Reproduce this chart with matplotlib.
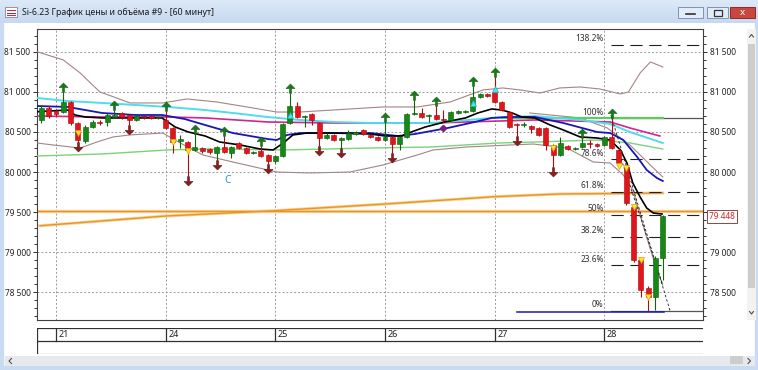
import numpy as np
import matplotlib.pyplot as plt
from matplotlib.path import Path
from matplotlib.patches import Rectangle
from matplotlib.colors import LinearSegmentedColormap
from matplotlib.ticker import MultipleLocator, FuncFormatter, FixedLocator

plt.rcParams['font.family'] = ['Noto Sans', 'DejaVu Sans']

W, H = 758, 370

# ---- price data (hourly bars, index 0 = first bar of the 21st) ----
bar_idx = np.arange(-2, 84)
opens = [80649, 80798, 80761, 80748, 80873, 80611, 80387, 80561, 80624, 80624,
         80686, 80736, 80711, 80649, 80698, 80698, 80674, 80649, 80549, 80387,
         80374, 80275, 80299, 80287, 80237, 80312, 80237, 80362, 80299, 80237,
         80262, 80212, 80137, 80200, 80611, 80823, 80686, 80723, 80611, 80424,
         80462, 80399, 80412, 80474, 80524, 80462, 80437, 80399, 80437, 80349,
         80437, 80723, 80736, 80698, 80711, 80661, 80649, 80736, 80748, 80761,
         80935, 80973, 80998, 80873, 80748, 80599, 80586, 80574, 80549, 80549,
         80337, 80212, 80324, 80287, 80312, 80362, 80349, 80337, 80437, 80275,
         80063, 79564, 78903, 78554, 78441, 78928]
highs = [80836, 80823, 80786, 80998, 80885, 80624, 80586, 80649, 80649, 80736,
         80773, 80748, 80723, 80711, 80711, 80711, 80698, 80761, 80561, 80462,
         80387, 80474, 80312, 80299, 80324, 80449, 80324, 80374, 80312, 80262,
         80324, 80225, 80212, 80611, 80985, 80873, 80711, 80736, 80624, 80486,
         80474, 80437, 80524, 80511, 80536, 80474, 80449, 80624, 80449, 80449,
         80736, 80898, 80798, 80723, 80823, 80773, 80761, 80773, 80773, 81073,
         80985, 80985, 81185, 80885, 80761, 80611, 80624, 80586, 80561, 80561,
         80349, 80437, 80337, 80312, 80424, 80399, 80362, 80449, 80670, 80299,
         80075, 79576, 78928, 78579, 78953, 79464]
lows = [80611, 80674, 80698, 80736, 80586, 80374, 80362, 80549, 80586, 80574,
        80674, 80661, 80586, 80636, 80661, 80661, 80661, 80536, 80237, 80299,
        79950, 80262, 80237, 80225, 80150, 80237, 80175, 80287, 80225, 80225,
        80187, 80100, 80112, 80187, 80599, 80674, 80561, 80586, 80324, 80412,
        80387, 80299, 80399, 80462, 80462, 80424, 80387, 80387, 80237, 80275,
        80424, 80711, 80674, 80624, 80649, 80624, 80636, 80723, 80736, 80748,
        80923, 80935, 80861, 80761, 80549, 80449, 80561, 80486, 80449, 80275,
        80063, 80200, 80275, 80275, 80299, 80299, 80312, 80324, 80287, 80075,
        79589, 78878, 78441, 78270, 78279, 78653]
closes = [80798, 80698, 80723, 80873, 80611, 80399, 80561, 80624, 80611, 80711,
          80711, 80686, 80649, 80698, 80686, 80674, 80686, 80549, 80374, 80412,
          80275, 80312, 80262, 80250, 80312, 80250, 80312, 80299, 80237, 80250,
          80200, 80137, 80200, 80599, 80823, 80686, 80698, 80649, 80424, 80462,
          80399, 80424, 80486, 80499, 80474, 80437, 80399, 80437, 80349, 80437,
          80723, 80736, 80686, 80711, 80661, 80649, 80748, 80761, 80761, 80935,
          80973, 80948, 80873, 80773, 80561, 80586, 80599, 80536, 80462, 80337,
          80212, 80362, 80287, 80287, 80362, 80349, 80324, 80437, 80299, 80112,
          79614, 78903, 78529, 78441, 78928, 79448]

day_labels = ["21", "24", "25", "26", "27", "28"]
day_start = [0, 15, 30, 45, 60, 75]

# indicator lines (bar position, price)
black_x = [-2.6, 1.6, 2.6, 4.0, 6.3, 10.8, 14.5, 16.3, 18.1, 20.4, 22.4, 25.2, 27.9, 29.7, 31.1,
           32.4, 34.3, 37.9, 43.0, 45.0, 47.3, 48.2, 50.5, 53.2, 56.0, 57.7, 59.6, 61.0, 62.4,
           63.7, 65.5, 67.6, 69.4, 71.7, 74.0, 75.8, 77.2, 78.1, 78.9, 79.9, 80.8, 81.7, 82.9]
black_y = [80752, 80773, 80711, 80686, 80674, 80674, 80674, 80561, 80499, 80449, 80374, 80337,
           80287, 80275, 80362, 80462, 80486, 80486, 80474, 80449, 80449, 80486, 80561, 80624,
           80674, 80736, 80786, 80773, 80736, 80686, 80674, 80586, 80524, 80437, 80424, 80399,
           80275, 80112, 79863, 79688, 79551, 79489, 79476]
blue_x = [-2.6, 1.6, 6.3, 10.8, 14.5, 17.6, 20.4, 24.2, 28.9, 30.2, 31.6, 33.4, 37.9, 43.0,
          46.8, 49.1, 53.6, 57.3, 59.6, 61.8, 65.5, 69.4, 74.0, 75.8, 77.6, 79.5, 80.8, 82.2, 83.0]
blue_y = [80823, 80811, 80736, 80711, 80711, 80661, 80586, 80486, 80412, 80399, 80462, 80486,
          80486, 80486, 80449, 80474, 80549, 80624, 80674, 80686, 80686, 80611, 80499, 80486,
          80399, 80187, 80025, 79925, 79888]
cyan_x = [-2.6, 1.6, 6.3, 10.8, 15.3, 20.4, 24.2, 28.9, 33.4, 37.9, 43.0, 51.4, 59.6, 65.5,
          71.7, 75.8, 78.5, 83.0]
cyan_y = [80923, 80885, 80861, 80836, 80811, 80773, 80736, 80686, 80649, 80624, 80611, 80611,
          80674, 80698, 80649, 80599, 80499, 80362]
magenta_x = [-2.6, 6.3, 15.3, 20.4, 28.9, 37.9, 51.4, 65.5, 75.8, 78.5, 82.6]
magenta_y = [80698, 80686, 80686, 80674, 80624, 80611, 80611, 80649, 80624, 80549, 80449]
lgreen_x = [-2.6, 6.3, 15.3, 20.4, 31.1, 43.0, 51.4, 60.5, 65.5, 74.0, 78.5, 83.0]
lgreen_y = [80200, 80225, 80275, 80287, 80275, 80299, 80312, 80362, 80374, 80399, 80362, 80287]
bb_up_x = [-2.6, 1.0, 3.3, 6.0, 8.3, 10.1, 14.6, 17.9, 22.0, 26.1, 30.2, 33.4, 37.9, 44.7,
           49.4, 53.9, 58.4, 61.1, 63.5, 66.2, 68.9, 71.7, 74.4, 77.2, 78.3, 79.9, 81.3, 83.0]
bb_up_y = [81500, 81397, 81235, 80998, 80923, 80861, 80861, 80911, 80873, 80811, 80748, 80748,
           80773, 80811, 80811, 80873, 81023, 81048, 81023, 80985, 81048, 81060, 81035, 80973,
           80998, 81235, 81372, 81310]
bb_lo_x = [-2.6, -0.4, 3.3, 5.6, 7.8, 10.1, 14.6, 17.0, 20.1, 24.8, 30.2, 34.7, 40.2, 44.7,
           49.4, 51.6, 56.2, 62.1, 65.3, 69.9, 73.5, 75.8, 77.6, 78.9, 80.7, 82.1, 83.0]
bb_lo_y = [80362, 80337, 80299, 80374, 80437, 80462, 80486, 80362, 80212, 80112, 80000, 79988,
           80000, 80087, 80212, 80275, 80312, 80337, 80349, 80299, 80125, 80112, 79963, 79776,
           79215, 78803, 78591]
bb_mid_x = [64.8, 71.7, 75.4, 78.5, 81.3, 83.0]
bb_mid_y = [80736, 80674, 80549, 80337, 80087, 79938]
orange_x = [-2.2, 14.9, 30.0, 45.0, 59.9, 68.9, 83.0]
orange_y = [79330, 79451, 79518, 79601, 79692, 79726, 79738]
orange_level = 79520
green_level = 80677
green_level_x = [61.0, 83.0]
blue_level = 78251
blue_level_x = [63.1, 83.2]
trend_a_x = [75.9, 84.0]
trend_a_y = [80711, 78267]
trend_b_x = [76.9, 83.0]
trend_b_y = [80275, 78591]

fib_low, fib_high = 78270, 80670
fib_levels = [0, 0.236, 0.382, 0.5, 0.618, 0.786, 1.0, 1.382]
fib_labels = ["0%", "23.6%", "38.2%", "50%", "61.8%", "78.6%", "100%", "138.2%"]
fib_start = 75.9

up_marks = [1, 8, 15, 19, 23, 28, 32, 45, 49, 52, 57, 60, 72, 76]
down_marks = [3, 10, 18, 22, 29, 36, 39, 46, 63, 68]
yellow_i = [3, 16, 18, 68, 77, 78, 79, 80, 81]
yellow_p = [80486, 80374, 80262, 80299, 80075, 80050, 79564, 78903, 78441]
cyan_i = [32, 57, 60]
cyan_p = [80711, 80861, 81035]
last_price = 79448

# ---- figure ----
fig = plt.figure(figsize=(W / 100, H / 100), dpi=100)
fig.patch.set_facecolor('white')

bg = fig.add_axes([0, 0, 1, 1], zorder=0)
bg.set_xlim(0, W)
bg.set_ylim(H, 0)
bg.axis('off')

# window chrome
tb = LinearSegmentedColormap.from_list('tb', ['#dde9f7', '#c6d9f0'])
bg.imshow(np.linspace(0, 1, 40).reshape(-1, 1), extent=(0, W, 23, 0), cmap=tb, aspect='auto', zorder=0)
bg.add_patch(Rectangle((0, 23), 3, H - 23, color='#c9dbf0', zorder=1))
bg.add_patch(Rectangle((755, 23), 3, H - 23, color='#c9dbf0', zorder=1))
bg.add_patch(Rectangle((0, 366), W, 4, color='#c9dbf0', zorder=1))
bg.add_patch(Rectangle((5, 7), 12, 10, facecolor='white', edgecolor='#7a8aa0', lw=0.6, zorder=2))
for k, c in enumerate(['#d03030', '#3050c0', '#d03030']):
    bg.plot([7, 15], [10 + 2.5 * k, 10 + 2.5 * k], color=c, lw=0.8, zorder=3)
bg.text(22, 12, "Si-6.23 График цены и объёма #9 - [60 минут]", fontsize=6.3,
        va='center', ha='left', color='#1a1a1a')
bg.add_patch(Rectangle((678, 7), 25, 11, facecolor='#e2ebf6', edgecolor='#7d95b5', lw=0.7))
bg.plot([686, 695], [14, 14], color='#333333', lw=1.2)
bg.add_patch(Rectangle((707, 7), 21, 11, facecolor='#e2ebf6', edgecolor='#7d95b5', lw=0.7))
bg.add_patch(Rectangle((713.5, 9.5), 8, 6, facecolor='none', edgecolor='#333333', lw=0.9))
bg.add_patch(Rectangle((730, 7), 25, 11, facecolor='#c9473e', edgecolor='#8a2a25', lw=0.7))
bg.text(742.5, 12.5, "x", fontsize=7, fontweight='bold', color='white', ha='center', va='center')

# vertical scrollbar
bg.add_patch(Rectangle((747, 29), 9, 291, facecolor='#f2f2f2', edgecolor='none'))
bg.add_patch(Rectangle((748, 44), 7, 244, facecolor='#cdcdcd', edgecolor='none'))
bg.plot([749.5, 751.5, 753.5], [37, 34.5, 37], color='#505050', lw=0.8)
bg.plot([749.5, 751.5, 753.5], [311.5, 314, 311.5], color='#505050', lw=0.8)
# horizontal scrollbar
bg.add_patch(Rectangle((5, 356), 750, 10, facecolor='#e6eaee', edgecolor='none'))
bg.add_patch(Rectangle((730, 356), 13, 8, facecolor='#cdcdcd', edgecolor='none'))
bg.plot([11.5, 9, 11.5], [358.5, 361, 363.5], color='#505050', lw=0.8)
bg.plot([748, 750.5, 748], [358.5, 361, 363.5], color='#505050', lw=0.8)

# ---- price panel ----
ax = fig.add_axes([37 / W, 50 / H, 666 / W, 291 / H], zorder=2)
ax.set_facecolor('white')
ax.set_xlim(-2.6, 88.5)
ax.set_ylim(78155, 81783)

ax.yaxis.set_major_locator(MultipleLocator(500))
ax.yaxis.set_minor_locator(MultipleLocator(100))
ax.yaxis.set_major_formatter(FuncFormatter(lambda v, p: f"{v:,.0f}".replace(",", " ")))
ax.xaxis.set_major_locator(FixedLocator(day_start))
ax.set_xticklabels([])
ax.tick_params(axis='x', length=0)
ax.tick_params(axis='y', which='both', left=True, right=True, labelleft=True, labelright=True,
               direction='out', color='#303030', width=0.7)
ax.tick_params(axis='y', which='major', length=3.2, labelsize=6, pad=1.5, labelcolor='#202020')
ax.tick_params(axis='y', which='minor', length=2)
ax.grid(True, which='major', color='#9a9a9a', lw=0.7, ls=(0, (2, 2)))
for s in ax.spines.values():
    s.set_color('#404040')
    s.set_linewidth(0.8)

# long-term levels and averages
ax.axhline(orange_level, color='#f9d3a0', lw=2.4, zorder=2)
ax.axhline(orange_level, color='#e9961f', lw=1.0, zorder=2.1)
ax.plot(orange_x, orange_y, color='#f9d3a0', lw=2.2, zorder=2)
ax.plot(orange_x, orange_y, color='#e9961f', lw=1.0, zorder=2.1)
ax.plot(bb_up_x, bb_up_y, color='#a48484', lw=0.8, zorder=3)
ax.plot(bb_lo_x, bb_lo_y, color='#a48484', lw=0.8, zorder=3)
ax.plot(bb_mid_x, bb_mid_y, color='#a48484', lw=0.8, zorder=3)
ax.plot(lgreen_x, lgreen_y, color='#7ad37a', lw=1.0, zorder=3)
ax.plot(green_level_x, [green_level] * 2, color='#5ccc5c', lw=1.6, zorder=3)
ax.plot(magenta_x, magenta_y, color='#d0268e', lw=1.2, zorder=3)
ax.plot(cyan_x, cyan_y, color='#4fdcec', lw=1.4, zorder=3)
ax.plot(blue_x, blue_y, color='#1717b8', lw=1.3, zorder=3)
ax.plot(black_x, black_y, color='#000000', lw=1.2, zorder=3.2)
ax.plot(blue_level_x, [blue_level] * 2, color='#1a1ab0', lw=1.1, zorder=3)
ax.plot(trend_a_x, trend_a_y, color='#202020', lw=0.6, ls=(0, (3, 2.5)), zorder=3)
ax.plot(trend_b_x, trend_b_y, color='#202020', lw=0.6, ls=(0, (3, 2.5)), zorder=3)

# fibonacci grid
rng = fib_high - fib_low
for lvl, lab in zip(fib_levels, fib_labels):
    p = fib_low + lvl * rng
    if lvl in (0, 1.0):
        ax.plot([fib_start, 88.5], [p, p], color='#555555', lw=0.9, zorder=2.5)
    else:
        ax.plot([fib_start, 88.3], [p, p], color='#202020', lw=0.8,
                ls=(0, (11, 6)), zorder=2.5)
    ax.text(74.9, p + 22, lab, fontsize=6, ha='right', va='bottom', color='#303030', zorder=4)

# candles
o = np.array(opens)
c = np.array(closes)
up = c >= o
body_lo = np.minimum(o, c)
body_h = np.maximum(np.abs(c - o), 12)
wick_col = np.where(up, '#0d650d', '#a31010')
ax.vlines(bar_idx, lows, highs, colors=wick_col, lw=0.8, zorder=4)
ax.bar(bar_idx[up], body_h[up], bottom=body_lo[up], width=0.68,
       color='#168816', edgecolor='#0b5a0b', lw=0.4, zorder=5)
ax.bar(bar_idx[~up], body_h[~up], bottom=body_lo[~up], width=0.68,
       color='#e3141b', edgecolor='#a00c0c', lw=0.4, zorder=5)

# signal markers
up_arrow = Path([(-1, 0), (0, 1), (1, 0), (0.22, 0), (0.22, -1.1), (-0.22, -1.1),
                 (-0.22, 0), (-1, 0)], closed=True)
down_arrow = Path([(-1, 0), (0, -1), (1, 0), (0.22, 0), (0.22, 1.1), (-0.22, 1.1),
                   (-0.22, 0), (-1, 0)], closed=True)
hi = np.array(highs)
lo = np.array(lows)
ui = np.array(up_marks)
di = np.array(down_marks)
ax.plot(ui, hi[ui + 2] + 60, ls='none', marker=up_arrow, ms=7, color='#167a16',
        mec='#0d5a0d', mew=0.4, zorder=6)
ax.plot(di, lo[di + 2] - 60, ls='none', marker=down_arrow, ms=7, color='#8e1a1a',
        mec='#5a0d0d', mew=0.4, zorder=6)
ax.plot(yellow_i, yellow_p, ls='none', marker='v', ms=5, color='#ffe82a',
        mec='#e0a010', mew=0.5, zorder=6)
ax.plot(cyan_i, cyan_p, ls='none', marker='^', ms=5, color='#44e6f0',
        mec='#20b0c0', mew=0.5, zorder=6)
ax.plot([53], [80549], ls='none', marker='D', ms=3.2, color='#7a1f7a', zorder=6)
ax.text(23.5, 79888, "C", fontsize=7.5, fontweight='bold', color='#2a8de0',
        ha='center', va='center', zorder=6)

# last price box on the right scale covers the 79 500 label there
fig.canvas.draw()
for tick, loc in zip(ax.yaxis.get_major_ticks(), ax.yaxis.get_majorticklocs()):
    if abs(loc - 79500) < 1:
        tick.label2.set_visible(False)
ax.text(1.0085, last_price, f"{last_price:,}".replace(",", " "), transform=ax.get_yaxis_transform(),
        fontsize=6, color='#d02828', ha='left', va='center', zorder=10, clip_on=False,
        bbox=dict(boxstyle='square,pad=0.25', facecolor='white', edgecolor='#7a2a2a', lw=0.6))

# ---- date panel ----
axd = fig.add_axes([37 / W, 16 / H, 666 / W, 26 / H], zorder=2)
axd.set_xlim(-2.6, 88.5)
axd.set_ylim(0, 2)
axd.axis('off')
axd.plot([-2.6, 88.5], [2, 2], color='#303030', lw=0.9)
axd.plot([-2.6, 88.5], [1, 1], color='#303030', lw=0.9)
axd.plot([-2.6, 88.5], [0.02, 0.02], color='#8a8a8a', lw=0.9)
axd.plot([-2.6, -2.6], [0, 2], color='#303030', lw=0.9)
for d, lab in zip(day_start, day_labels):
    axd.plot([d, d], [1, 2], color='#303030', lw=0.9)
    axd.text(d + 0.35, 1.5, lab, fontsize=6.5, ha='left', va='center', color='#202020')

fig.savefig('out.png', dpi=100)
